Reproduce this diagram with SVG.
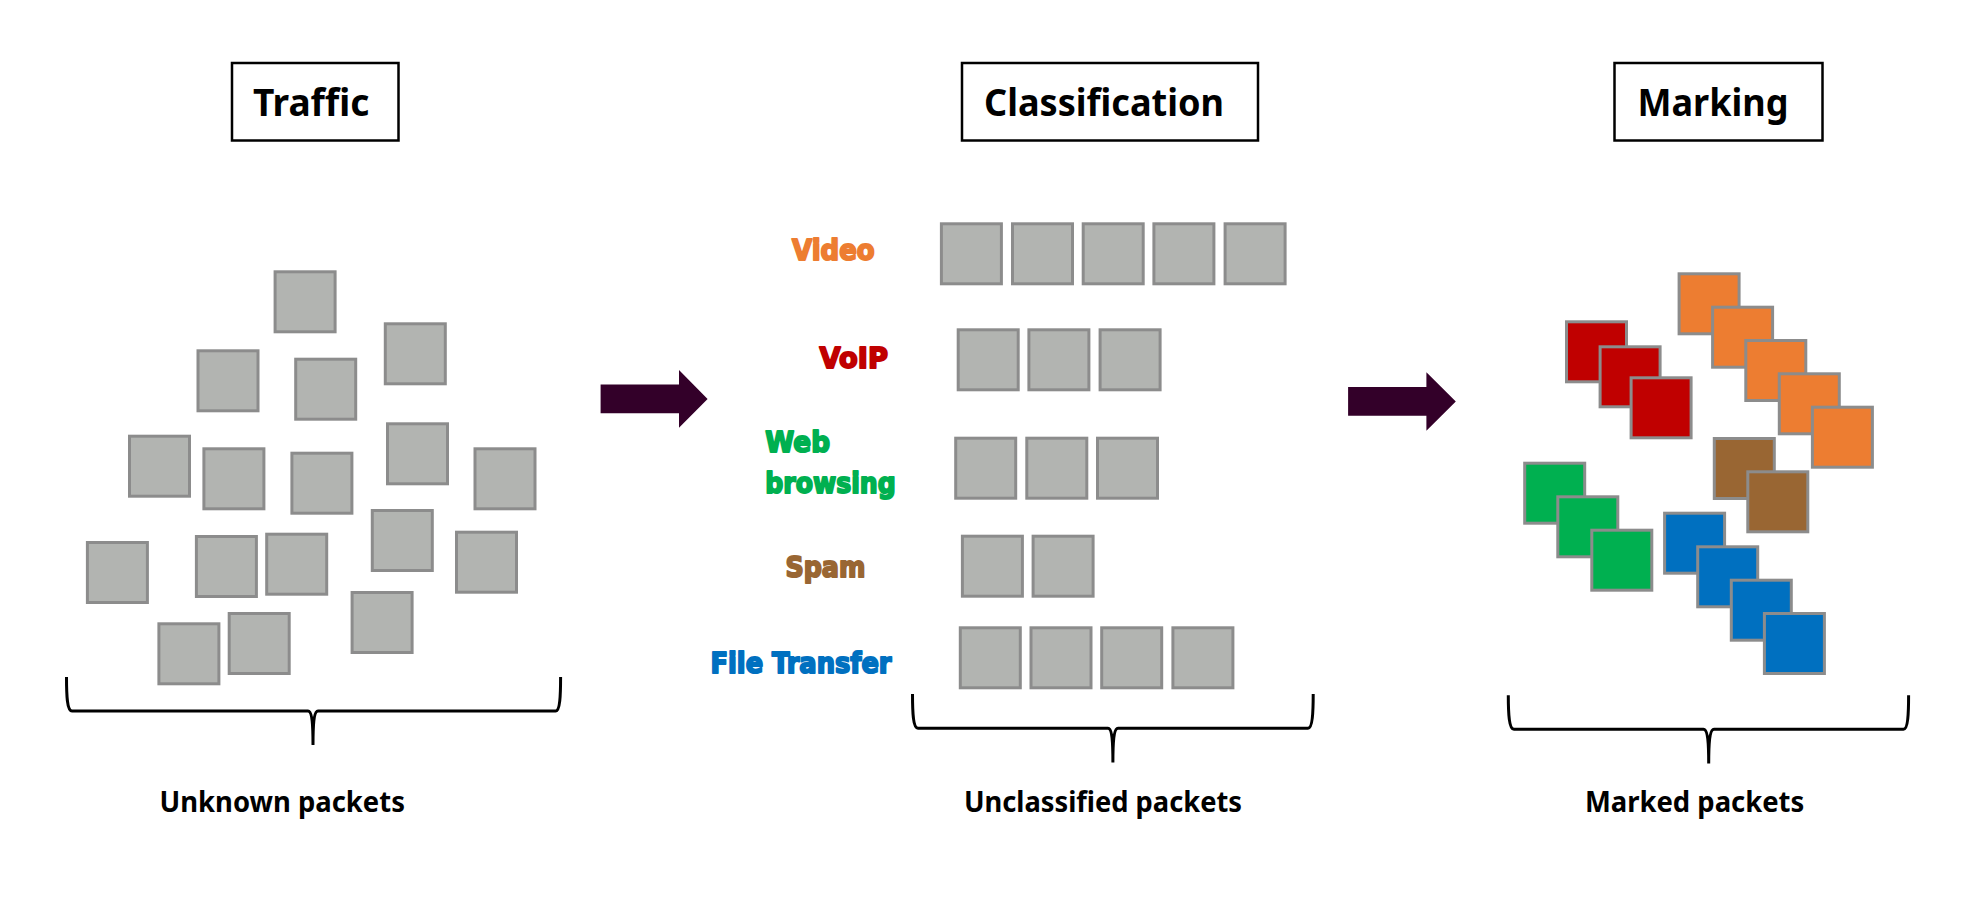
<svg xmlns="http://www.w3.org/2000/svg" width="1969" height="906" viewBox="0 0 1969 906">
<style>
.t{font-family:"Noto Sans","Open Sans","Liberation Sans",sans-serif;font-weight:700;fill:#000}
.h{font-size:38px}.c{font-size:29px}
.b{fill:#fff;stroke:#000;stroke-width:2.5}
.p{stroke:#8c8c8c;stroke-width:3}
.g{fill:#b2b4b1}.o{fill:#ed7d31}.r{fill:#c00000}.n{fill:#996633}.e{fill:#00b050}.u{fill:#0070c0}
.l{font-family:"DejaVu Sans",sans-serif;font-weight:700;font-size:29px;stroke-width:2;stroke-linejoin:round}
.lo{fill:#ed7d31;stroke:#ed7d31}.lr{fill:#c00000;stroke:#c00000}.le{fill:#00b050;stroke:#00b050}.ln{fill:#996633;stroke:#996633}.lu{fill:#0070c0;stroke:#0070c0}
.br{fill:none;stroke:#000;stroke-width:3}
.a{fill:#330029}
</style>
<rect width="1969" height="906" fill="#fff"/>
<g id="connectors">
<path class="a" d="M600.6 384.5H679V370L707.6 399L679 427.7V413.3H600.6Z"/>
<path class="a" d="M1348.1 387H1426.4V372.3L1455.8 401.5L1426.4 430.7V415.7H1348.1Z"/>
</g>
<g id="header-traffic"><rect class="b" x="232" y="63" width="166.5" height="77.5"/><text class="t h" x="253" y="115.7" textLength="116.5" lengthAdjust="spacingAndGlyphs">Traffic</text></g>
<g id="header-classification"><rect class="b" x="962" y="63" width="296" height="77.5"/><text class="t h" x="984" y="115.7" textLength="240" lengthAdjust="spacingAndGlyphs">Classification</text></g>
<g id="header-marking"><rect class="b" x="1614.5" y="63" width="208" height="77.5"/><text class="t h" x="1637.5" y="115.7" textLength="151" lengthAdjust="spacingAndGlyphs">Marking</text></g>
<g id="traffic-packets" class="p g">
<rect x="275.1" y="271.8" width="60" height="60"/><rect x="385.3" y="323.8" width="60" height="60"/><rect x="198" y="350.8" width="60" height="60"/><rect x="295.7" y="359.2" width="60" height="60"/><rect x="129.5" y="436.2" width="60" height="60"/><rect x="203.9" y="448.8" width="60" height="60"/><rect x="387.5" y="423.8" width="60" height="60"/><rect x="475" y="448.8" width="60" height="60"/><rect x="291.9" y="453.2" width="60" height="60"/><rect x="372.3" y="510.5" width="60" height="60"/><rect x="456.5" y="532.2" width="60" height="60"/><rect x="87.4" y="542.5" width="60" height="60"/><rect x="196.4" y="536.5" width="60" height="60"/><rect x="266.7" y="534.2" width="60" height="60"/><rect x="352.1" y="592.5" width="60" height="60"/><rect x="158.9" y="623.8" width="60" height="60"/><rect x="229.2" y="613.5" width="60" height="60"/>
</g>
<g id="class-video"><text class="l lo" x="792" y="260" textLength="82.7" lengthAdjust="spacingAndGlyphs">Video</text><g class="p g"><rect x="941.4" y="223.8" width="60" height="60"/><rect x="1012.5" y="223.8" width="60" height="60"/><rect x="1083.2" y="223.8" width="60" height="60"/><rect x="1153.9" y="223.8" width="60" height="60"/><rect x="1225.1" y="223.8" width="60" height="60"/></g></g>
<g id="class-voip"><text class="l lr" x="819.5" y="368.3" textLength="68.5" lengthAdjust="spacingAndGlyphs">VoIP</text><g class="p g"><rect x="958.2" y="329.8" width="60" height="60"/><rect x="1028.9" y="329.8" width="60" height="60"/><rect x="1100.1" y="329.8" width="60" height="60"/></g></g>
<g id="class-web"><text class="l le" x="765.3" y="451.7" textLength="64.7" lengthAdjust="spacingAndGlyphs">Web</text><text class="l le" x="765.3" y="493.3" textLength="130.4" lengthAdjust="spacingAndGlyphs">browsing</text><g class="p g"><rect x="955.7" y="438.2" width="60" height="60"/><rect x="1026.8" y="438.2" width="60" height="60"/><rect x="1097.5" y="438.2" width="60" height="60"/></g></g>
<g id="class-spam"><text class="l ln" x="785.4" y="576.7" textLength="80" lengthAdjust="spacingAndGlyphs">Spam</text><g class="p g"><rect x="962.4" y="536.2" width="60" height="60"/><rect x="1033.1" y="536.2" width="60" height="60"/></g></g>
<g id="class-file"><text class="l lu" x="710.5" y="672.7" textLength="181" lengthAdjust="spacingAndGlyphs">File Transfer</text><g class="p g"><rect x="960.3" y="627.8" width="60" height="60"/><rect x="1031" y="627.8" width="60" height="60"/><rect x="1101.7" y="627.8" width="60" height="60"/><rect x="1172.9" y="627.8" width="60" height="60"/></g></g>
<g id="marked-orange" class="p o"><rect x="1679.1" y="273.8" width="60" height="60"/><rect x="1712.6" y="307.2" width="60" height="60"/><rect x="1745.8" y="340.5" width="60" height="60"/><rect x="1779.3" y="373.8" width="60" height="60"/><rect x="1812.4" y="407.2" width="60" height="60"/></g>
<g id="marked-red" class="p r"><rect x="1566.5" y="321.8" width="60" height="60"/><rect x="1600.1" y="346.8" width="60" height="60"/><rect x="1631.1" y="377.8" width="60" height="60"/></g>
<g id="marked-brown" class="p n"><rect x="1714.3" y="438.5" width="60" height="60"/><rect x="1747.8" y="471.8" width="60" height="60"/></g>
<g id="marked-green" class="p e"><rect x="1524.7" y="463.2" width="60" height="60"/><rect x="1557.8" y="496.8" width="60" height="60"/><rect x="1591.8" y="530.2" width="60" height="60"/></g>
<g id="marked-blue" class="p u"><rect x="1664.6" y="513.2" width="60" height="60"/><rect x="1697.7" y="546.8" width="60" height="60"/><rect x="1731.3" y="580.2" width="60" height="60"/><rect x="1764.4" y="613.5" width="60" height="60"/></g>
<g id="brace-unknown"><path class="br" d="M66.5 677C66.5 695 67 711 72 711H308C311 711 313 718 313 745C313 718 315 711 318 711H555.6C560 711 560.6 695 560.6 677"/><text class="t c" x="159.5" y="812.3" textLength="245.4" lengthAdjust="spacingAndGlyphs">Unknown packets</text></g>
<g id="brace-unclassified"><path class="br" d="M912.5 694C912.5 712 913 728.3 918 728.3H1108C1111 728.3 1112.9 735 1112.9 762.5C1112.9 735 1115 728.3 1118 728.3H1308C1312.5 728.3 1313.2 712 1313.2 694"/><text class="t c" x="963.9" y="812.3" textLength="278.1" lengthAdjust="spacingAndGlyphs">Unclassified packets</text></g>
<g id="brace-marked"><path class="br" d="M1508.3 695.3C1508.3 713 1509 729.3 1514 729.3H1703.5C1706.5 729.3 1708.7 736 1708.7 763.5C1708.7 736 1711 729.3 1714 729.3H1903.5C1908 729.3 1908.6 713 1908.6 695.3"/><text class="t c" x="1584.9" y="812.3" textLength="219.4" lengthAdjust="spacingAndGlyphs">Marked packets</text></g>
</svg>
